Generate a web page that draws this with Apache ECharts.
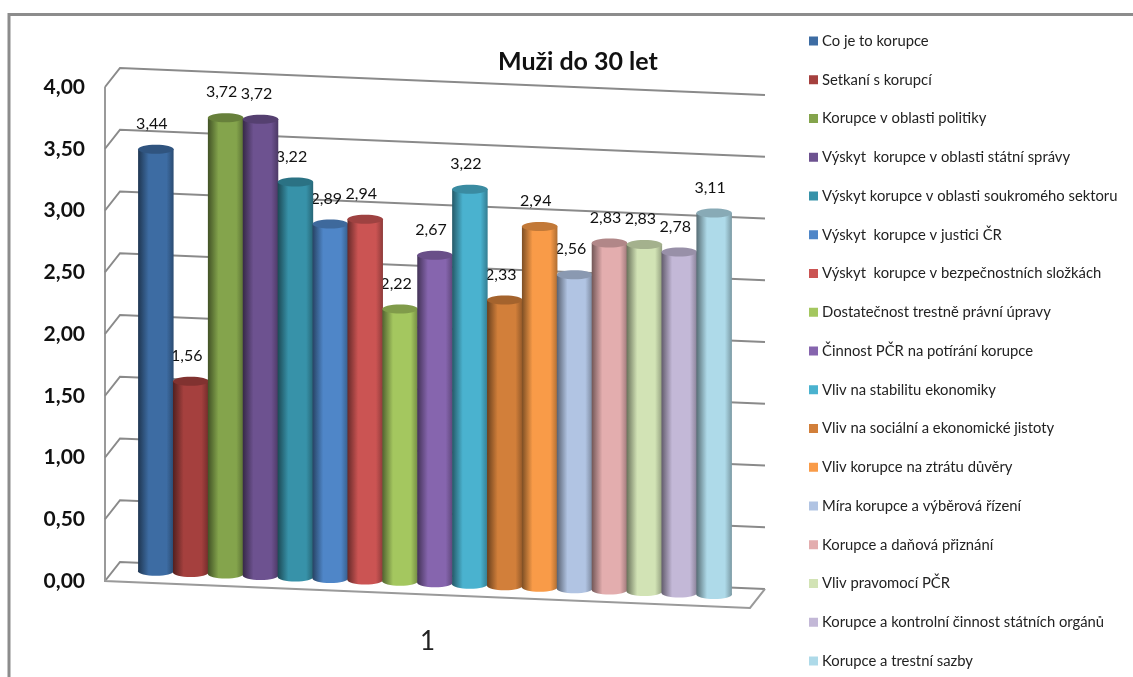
<!DOCTYPE html>
<html>
<head>
<meta charset="utf-8">
<style>html,body{margin:0;padding:0;background:#fff}#c{width:1133px;height:677px;filter:blur(0.45px)}</style>
<script src="https://cdn.jsdelivr.net/npm/echarts@6/dist/echarts.min.js"></script>
</head>
<body>
<div id="c"></div>
<script>
var categories = ["Co je to korupce","Setkaní s korupcí","Korupce v oblasti politiky","Výskyt  korupce v oblasti státní správy","Výskyt korupce v oblasti soukromého sektoru","Výskyt  korupce v justici ČR","Výskyt  korupce v bezpečnostních složkách","Dostatečnost trestně právní úpravy","Činnost PČR na potírání korupce","Vliv na stabilitu ekonomiky","Vliv na sociální a ekonomické jistoty","Vliv korupce na ztrátu důvěry","Míra korupce a výběrová řízení","Korupce a daňová přiznání","Vliv pravomocí PČR","Korupce a kontrolní činnost státních orgánů","Korupce a trestní sazby"];
var values = [3.44,1.56,3.72,3.72,3.22,2.89,2.94,2.22,2.67,3.22,2.33,2.94,2.56,2.83,2.83,2.78,3.11];
var colors = ["#3D6CA3","#A5403E","#84A44C","#6D5290","#3792A9","#4F86C8","#CB5453","#A4C75F","#8665AE","#4AB2CF","#D27F3A","#F99B48","#B1C4E3","#E3ADAE","#D2E3B5","#C3B8D7","#AEDAE9"];
var xLabels = ["1"];
var yTicks = [0,0.5,1,1.5,2,2.5,3,3.5,4];

var FONT = 'Lato,"Liberation Sans",sans-serif';
var SLOPE = 0.0418, DEPTH_X = 15, DEPTH_Y = 20, BAR_DY = 12, BAR_SCALE = 0.993, BAR_FRAC = 0.0541, RY = 4.5;

function shade(hex, f) {
  var n = parseInt(hex.slice(1), 16);
  var r = Math.round((n >> 16 & 255) * f), g = Math.round((n >> 8 & 255) * f), b = Math.round((n & 255) * f);
  return 'rgb(' + r + ',' + g + ',' + b + ')';
}
function barGeom(api, params, i, v) {
  var cs = params.coordSys;
  var c0 = api.coord([0, 0]), c1 = api.coord([0, v]);
  var w = api.size([1, 0])[0] * BAR_FRAC;
  var cx = c0[0] + DEPTH_X / 2 + (i - 8) * w;
  var by = c0[1] + SLOPE * (cx - cs.x) - BAR_DY;
  var ty = by - (c0[1] - c1[1]) * BAR_SCALE;
  return {cx: cx, by: by, ty: ty, w: w};
}
function renderBar(params, api) {
  var i = params.seriesIndex - 2, col = colors[i];
  var g = barGeom(api, params, i, api.value(1));
  var grad = new echarts.graphic.LinearGradient(0, 0, 1, 0, [
    {offset: 0, color: shade(col, 0.5)},
    {offset: 0.12, color: shade(col, 0.7)},
    {offset: 0.3, color: col},
    {offset: 0.8, color: col},
    {offset: 1, color: shade(col, 0.7)}
  ]);
  var w = g.w + 0.6, x = g.cx - w / 2;
  return {type: 'group', children: [
    {type: 'ellipse', shape: {cx: g.cx, cy: g.by, rx: w / 2, ry: RY}, style: {fill: grad}},
    {type: 'rect', shape: {x: x, y: g.ty, width: w, height: g.by - g.ty}, style: {fill: grad}},
    {type: 'ellipse', shape: {cx: g.cx, cy: g.ty, rx: w / 2, ry: RY}, style: {fill: shade(col, 0.78)}}
  ]};
}
function renderLabel(params, api) {
  var i = params.dataIndex, v = api.value(1);
  var g = barGeom(api, params, i, v);
  return {type: 'text', style: {
    x: g.cx - 4, y: g.ty - 25.5, text: v.toFixed(2).replace('.', ','),
    fill: '#111', font: '16px ' + FONT, align: 'center', verticalAlign: 'middle'
  }};
}
function renderGrid(params, api) {
  var cs = params.coordSys, p = api.coord([0, api.value(0)]);
  var l = cs.x, r = cs.x + cs.width, y = p[1];
  var pts = [[l, y], [l + DEPTH_X, y - DEPTH_Y + 1], [r + DEPTH_X, y - DEPTH_Y + 1 + SLOPE * cs.width]];
  var kids = [{type: 'polyline', shape: {points: pts}, style: {fill: null, stroke: '#8a8a8a', lineWidth: 2}}];
  if (api.value(0) === 0) {
    var top = api.coord([0, yTicks[yTicks.length - 1]])[1];
    kids.push({type: 'polyline', shape: {points: [[l, top], [l, y], [r, y + SLOPE * cs.width], [r + DEPTH_X, y - DEPTH_Y + 1 + SLOPE * cs.width]]},
      style: {fill: null, stroke: '#9a9a9a', lineWidth: 2}});
  }
  return {type: 'group', children: kids};
}

var series = [
  {type: 'custom', name: '_grid', z: 1, silent: true, data: yTicks.map(function (t) { return [t]; }), renderItem: renderGrid, encode: {y: 0}},
  {type: 'custom', name: '_labels', z: 2, silent: true, data: values.map(function (v) { return [0, v]; }), renderItem: renderLabel, encode: {x: 0, y: 1}}
];
categories.forEach(function (name, i) {
  series.push({type: 'custom', name: name, z: 3, itemStyle: {color: colors[i]}, data: [[0, values[i]]], renderItem: renderBar, encode: {x: 0, y: 1}});
});

var chart = echarts.init(document.getElementById('c'));
chart.setOption({
  animation: false,
  backgroundColor: '#fff',
  title: {text: 'Muži do 30 let', left: 498, top: 49, padding: 0, textStyle: {fontFamily: FONT, fontSize: 25, fontWeight: 'bold', color: '#111'}},
  legend: {
    orient: 'vertical', left: 809, top: 32, height: 645, padding: 0, data: categories, icon: 'rect', itemWidth: 9, itemHeight: 9, itemGap: 20.75,
    textStyle: {fontFamily: FONT, fontSize: 14.8, color: '#222', lineHeight: 18, padding: [0, 0, 0, -1]}
  },
  grid: {left: 105, width: 645, top: 87, height: 494},
  xAxis: {type: 'category', data: xLabels, axisLine: {show: false}, axisTick: {show: false}, splitLine: {show: false},
    axisLabel: {margin: 48, fontFamily: FONT, fontSize: 26, color: '#222'}},
  yAxis: {type: 'value', min: 0, max: 4, interval: 0.5, axisLine: {show: false}, axisTick: {show: false}, splitLine: {show: false},
    axisLabel: {margin: 20, fontFamily: FONT, fontSize: 21, fontWeight: 'bold', color: '#111', padding: [5, 0, 0, 0],
      formatter: function (v) { return v.toFixed(2).replace('.', ','); }}},
  graphic: [
    {type: 'polyline', shape: {points: [[9, 677], [9, 14.5], [1133, 14.5]]}, style: {fill: null, stroke: '#8c8c8c', lineWidth: 3}, silent: true}
  ],
  series: series
});
</script>
</body>
</html>
